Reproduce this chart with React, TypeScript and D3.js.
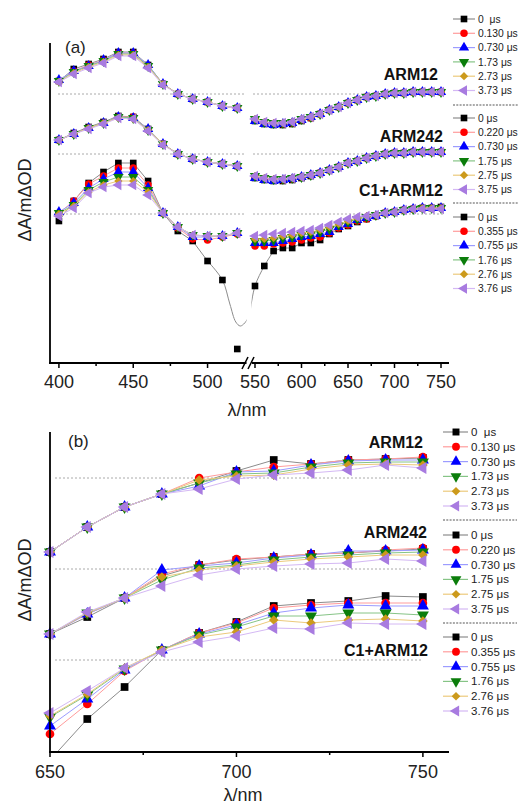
import React from 'react';
import * as d3 from 'd3';

const W = 519;
const H = 806;

// ---------- categories ----------
const groupNames = ['ARM12', 'ARM242', 'C1+ARM12'];
const waveALeft = [400, 410, 420, 430, 440, 450, 460, 470, 480, 490, 500, 510, 520];
const waveARight = [550, 560, 570, 580, 590, 600, 610, 620, 630, 640, 650, 660, 670, 680, 690, 700, 710, 720, 730, 740, 750];
const waveB = [650, 660, 670, 680, 690, 700, 710, 720, 730, 740, 750];
const ticksALeft = [400, 450, 500];
const minorALeft = [425, 475];
const ticksARight = [550, 600, 650, 700, 750];
const minorARight = [575, 625, 675, 725];
const ticksB = [650, 700, 750];
const minorB = [675, 725];

const legendLabels = [
  ['0  μs', '0.130 μs', '0.730 μs', '1.73 μs', '2.73 μs', '3.73 μs'],
  ['0 μs', '0.220 μs', '0.730 μs', '1.75 μs', '2.75 μs', '3.75 μs'],
  ['0 μs', '0.355 μs', '0.755 μs', '1.76 μs', '2.76 μs', '3.76 μs'],
];

// vertical offsets of the stacked spectra
const offsetsA = [12, 6, 0];
const offsetsB = [18.2, 9.1, 0];

// ---------- panel (a) values (ΔA, arbitrary units, relative to each baseline) ----------
const arm12ALeft = [
  [1.3, 2.5, 3.0, 3.5, 4.2, 4.2, 2.9, 1.0, 0.0, -0.5, -0.8, -1.2, -1.4],
  [1.3, 2.3, 2.9, 3.4, 4.1, 4.1, 2.8, 1.0, 0.0, -0.5, -0.8, -1.2, -1.4],
  [1.4, 2.3, 2.8, 3.4, 4.1, 4.1, 2.9, 1.0, 0.0, -0.5, -0.8, -1.2, -1.4],
  [1.3, 2.2, 2.8, 3.3, 4.0, 4.0, 2.8, 1.0, 0.0, -0.5, -0.8, -1.2, -1.4],
  [1.2, 2.1, 2.7, 3.2, 3.9, 3.9, 2.7, 1.0, 0.0, -0.5, -0.8, -1.2, -1.4],
  [1.2, 2.0, 2.6, 3.1, 3.8, 3.8, 2.6, 0.9, 0.0, -0.5, -0.8, -1.2, -1.4],
];
const arm12ARight = [
  [-2.7, -3.0, -3.1, -3.1, -3.0, -2.7, -2.4, -2.0, -1.6, -1.3, -0.9, -0.6, -0.3, -0.2, 0.0, 0.1, 0.1, 0.2, 0.2, 0.2, 0.2],
  [-2.6, -2.9, -3.0, -3.0, -2.9, -2.6, -2.4, -2.0, -1.6, -1.3, -0.9, -0.6, -0.3, -0.2, 0.0, 0.1, 0.1, 0.2, 0.2, 0.2, 0.2],
  [-2.7, -3.0, -3.1, -3.0, -2.9, -2.6, -2.3, -2.0, -1.6, -1.3, -0.9, -0.6, -0.3, -0.2, 0.0, 0.1, 0.1, 0.2, 0.2, 0.2, 0.2],
  [-2.5, -2.8, -2.9, -2.9, -2.8, -2.5, -2.3, -2.0, -1.6, -1.3, -0.9, -0.6, -0.3, -0.2, 0.0, 0.1, 0.1, 0.2, 0.2, 0.2, 0.2],
  [-2.5, -2.8, -2.9, -2.9, -2.8, -2.5, -2.3, -2.0, -1.6, -1.3, -0.9, -0.6, -0.3, -0.2, 0.0, 0.1, 0.1, 0.2, 0.2, 0.2, 0.2],
  [-2.5, -2.8, -2.9, -2.9, -2.8, -2.5, -2.3, -2.0, -1.6, -1.3, -0.9, -0.6, -0.3, -0.2, 0.0, 0.1, 0.1, 0.2, 0.2, 0.2, 0.2],
];
const arm242ALeft = [
  [1.4, 2.1, 2.7, 3.2, 3.8, 3.7, 2.5, 1.0, 0.0, -0.5, -0.8, -1.0, -1.2],
  [1.4, 2.0, 2.6, 3.1, 3.7, 3.7, 2.4, 1.0, 0.0, -0.5, -0.8, -1.0, -1.2],
  [1.4, 2.0, 2.6, 3.1, 3.7, 3.6, 2.5, 1.0, 0.0, -0.5, -0.8, -1.0, -1.2],
  [1.4, 2.0, 2.6, 3.1, 3.7, 3.6, 2.4, 1.0, 0.0, -0.5, -0.8, -1.0, -1.2],
  [1.4, 2.0, 2.6, 3.1, 3.6, 3.5, 2.4, 1.0, 0.0, -0.5, -0.8, -1.0, -1.2],
  [1.4, 2.0, 2.5, 3.0, 3.6, 3.5, 2.3, 0.9, 0.0, -0.5, -0.8, -1.0, -1.2],
];
const arm242ARight = [
  [-2.4, -2.6, -2.7, -2.7, -2.6, -2.4, -2.2, -1.9, -1.6, -1.3, -0.9, -0.7, -0.4, -0.2, 0.0, 0.1, 0.1, 0.2, 0.2, 0.2, 0.2],
  [-2.3, -2.5, -2.6, -2.6, -2.5, -2.3, -2.1, -1.9, -1.6, -1.3, -0.9, -0.7, -0.4, -0.2, 0.0, 0.1, 0.1, 0.2, 0.2, 0.2, 0.2],
  [-2.4, -2.6, -2.7, -2.6, -2.5, -2.3, -2.1, -1.9, -1.6, -1.3, -0.9, -0.7, -0.4, -0.2, 0.0, 0.1, 0.1, 0.2, 0.2, 0.2, 0.2],
  [-2.2, -2.4, -2.5, -2.5, -2.4, -2.3, -2.1, -1.9, -1.6, -1.3, -0.9, -0.7, -0.4, -0.2, 0.0, 0.1, 0.1, 0.2, 0.2, 0.2, 0.2],
  [-2.2, -2.4, -2.5, -2.5, -2.4, -2.3, -2.1, -1.9, -1.6, -1.3, -0.9, -0.7, -0.4, -0.2, 0.0, 0.1, 0.1, 0.2, 0.2, 0.2, 0.2],
  [-2.2, -2.4, -2.5, -2.5, -2.4, -2.3, -2.1, -1.9, -1.6, -1.3, -0.9, -0.7, -0.4, -0.2, 0.0, 0.1, 0.1, 0.2, 0.2, 0.2, 0.2],
];
const c1ALeft = [
  [-0.7, 1.3, 3.1, 4.2, 5.1, 5.1, 3.3, 0.1, -1.7, -2.7, -4.7, -6.6, -13.5],
  [0.1, 1.3, 3.0, 3.8, 4.6, 4.6, 2.9, 0.1, -1.4, -2.5, -2.6, -2.3, -2.0],
  [0.2, 1.1, 2.6, 3.5, 4.2, 4.2, 2.6, 0.1, -1.3, -2.3, -2.3, -2.2, -1.9],
  [0.1, 0.9, 2.4, 3.2, 3.7, 3.7, 2.4, 0.1, -1.3, -2.1, -2.2, -2.2, -1.9],
  [0.0, 0.8, 2.2, 2.9, 3.3, 3.3, 2.2, 0.1, -1.3, -2.1, -2.2, -2.2, -1.9],
  [-0.2, 0.6, 2.1, 2.7, 2.9, 2.9, 1.9, 0.1, -1.3, -2.1, -2.2, -2.2, -1.9],
];
const c1ARight = [
  [-7.2, -5.2, -3.7, -3.4, -3.4, -2.9, -2.9, -2.6, -2.0, -1.5, -1.2, -0.8, -0.5, -0.2, 0.1, 0.2, 0.4, 0.5, 0.6, 0.6, 0.7],
  [-3.2, -3.2, -3.0, -2.9, -2.8, -2.6, -2.4, -2.3, -1.9, -1.4, -1.1, -0.7, -0.5, -0.2, 0.1, 0.2, 0.4, 0.5, 0.6, 0.6, 0.6],
  [-2.9, -2.9, -2.9, -2.7, -2.5, -2.3, -2.2, -2.0, -1.8, -1.3, -1.0, -0.6, -0.4, -0.2, 0.1, 0.2, 0.4, 0.5, 0.6, 0.6, 0.6],
  [-2.7, -2.7, -2.6, -2.4, -2.3, -2.1, -2.0, -1.8, -1.5, -1.1, -0.8, -0.5, -0.3, -0.1, 0.1, 0.2, 0.4, 0.5, 0.6, 0.6, 0.6],
  [-2.5, -2.5, -2.4, -2.2, -2.1, -1.9, -1.8, -1.6, -1.3, -1.0, -0.7, -0.4, -0.2, -0.1, 0.1, 0.2, 0.4, 0.5, 0.6, 0.6, 0.6],
  [-2.2, -2.1, -2.0, -1.9, -1.8, -1.7, -1.6, -1.4, -1.1, -0.8, -0.5, -0.3, -0.2, -0.1, 0.1, 0.2, 0.4, 0.5, 0.5, 0.5, 0.5],
];
// smoothed trace of the C1+ARM12 0 μs spectrum across the bleach region
const c1FitLeftWave = [500, 510, 515, 519, 522, 525, 528];
const c1FitLeftVal = [-4.7, -6.6, -9.0, -10.8, -11.2, -10.9, -10.2];
const c1FitRightWave = [545, 550, 560, 570];
const c1FitRightVal = [-9.6, -7.2, -5.2, -3.7];

// ---------- panel (b) values ----------
const arm12B = [
  [-7.4, -4.9, -2.9, -1.6, -0.5, 0.7, 1.8, 1.4, 1.8, 1.9, 2.0],
  [-7.4, -4.9, -2.9, -1.6, 0.0, 0.6, 1.1, 1.4, 1.8, 1.9, 2.1],
  [-7.4, -4.9, -2.9, -1.6, -0.8, 0.6, 0.7, 1.3, 1.7, 1.8, 1.8],
  [-7.4, -4.9, -2.9, -1.6, -0.5, 0.4, 0.5, 1.1, 1.5, 1.6, 1.6],
  [-7.4, -4.9, -2.9, -1.6, -0.2, 0.2, 0.3, 0.9, 1.3, 1.4, 1.3],
  [-7.4, -4.9, -2.9, -1.6, -1.1, -0.1, 0.3, 0.5, 0.8, 1.3, 1.0],
];
const arm242B = [
  [-6.5, -4.8, -2.9, -0.7, 0.4, 0.9, 1.2, 1.5, 1.6, 1.8, 2.0],
  [-6.5, -4.5, -2.9, -0.5, 0.4, 1.0, 1.2, 1.5, 1.6, 1.9, 2.1],
  [-6.5, -4.5, -2.9, -0.1, 0.3, 0.6, 1.1, 1.4, 1.8, 1.8, 1.9],
  [-6.5, -4.4, -2.9, -1.1, 0.1, 0.4, 0.9, 1.2, 1.4, 1.6, 1.7],
  [-6.5, -4.4, -2.9, -0.8, -0.1, 0.3, 0.7, 1.0, 1.2, 1.4, 1.4],
  [-6.5, -4.3, -2.9, -1.7, -0.6, 0.0, 0.3, 0.5, 0.6, 1.0, 0.8],
];
const c1B = [
  [-10.0, -5.9, -2.7, 1.0, 2.7, 3.8, 5.4, 5.7, 5.9, 6.4, 6.3],
  [-7.4, -4.4, -1.1, 1.0, 2.7, 3.7, 5.2, 5.5, 5.7, 5.7, 5.7],
  [-6.6, -3.9, -1.0, 1.0, 2.6, 3.5, 4.7, 5.2, 5.5, 5.4, 5.4],
  [-5.7, -3.5, -0.9, 1.0, 2.5, 3.3, 4.4, 4.4, 4.7, 4.7, 4.5],
  [-5.6, -3.4, -0.8, 1.0, 2.3, 2.8, 4.0, 3.7, 4.0, 4.1, 3.9],
  [-5.3, -3.1, -0.8, 0.8, 1.8, 2.4, 3.2, 3.1, 3.7, 3.6, 3.6],
];

const groupsALeft = [arm12ALeft, arm242ALeft, c1ALeft];
const groupsARight = [arm12ARight, arm242ARight, c1ARight];
const groupsB = [arm12B, arm242B, c1B];

// ---------- styles ----------
const markerColors = ['#000000', '#ff0000', '#0000ff', '#0b7d0b', '#cc9a1c', '#a87be0'];
const lineColors = ['#8c8c8c', '#ff9c9c', '#9c9cff', '#86c486', '#ecca7c', '#d4b8f4'];
const markerKinds = ['square', 'circle', 'up', 'down', 'diamond', 'left'];
const FONT = "'Liberation Sans', Arial, Helvetica, sans-serif";

function Marker({ kind, x, y, color, scale }: any) {
  const s = scale;
  let d = '';
  let rot = 0;
  if (kind === 'square') d = d3.symbol(d3.symbolSquare, 44 * s)() as string;
  else if (kind === 'circle') d = d3.symbol(d3.symbolCircle, 44 * s)() as string;
  else if (kind === 'diamond') { d = d3.symbol(d3.symbolSquare, 34 * s)() as string; rot = 45; }
  else {
    d = d3.symbol(d3.symbolTriangle, 46 * s)() as string;
    rot = kind === 'up' ? 0 : kind === 'down' ? 180 : -90;
  }
  return <path d={d} transform={`translate(${x},${y}) rotate(${rot})`} fill={color} />;
}

const xAL = d3.scaleLinear().domain([394, 526.2]).range([50, 246.5]);
const xAR = d3.scaleLinear().domain([545.7, 758.6]).range([251, 449]);
const yA = d3.scaleLinear().domain([-14.9, 17.1]).range([363, 43]);
const xB = d3.scaleLinear().domain([650, 757]).range([50, 449]);
const yB = d3.scaleLinear().domain([-9.2, 22.8]).range([752, 432]);

const lineLin = d3.line<[number, number]>().x((d) => d[0]).y((d) => d[1]);
const lineSmooth = d3.line<[number, number]>().x((d) => d[0]).y((d) => d[1]).curve(d3.curveCatmullRom.alpha(0.5));

function SeriesSet({ waves, groups, xs, ys, offsets, scale, skipBlackLineGroup }: any) {
  const out: any[] = [];
  groups.forEach((g: number[][], gi: number) => {
    g.forEach((vals: number[], si: number) => {
      const pts: [number, number][] = waves.map((w: number, i: number) => [xs(w), ys(offsets[gi] + vals[i])]);
      let linePts = pts;
      if (skipBlackLineGroup && skipBlackLineGroup.group === gi && si === 0) linePts = skipBlackLineGroup.filter(pts);
      out.push(
        <path key={`l${gi}-${si}`} d={lineLin(linePts) as string} fill="none" stroke={lineColors[si]} strokeWidth={1} />
      );
      pts.forEach((p, i) => {
        out.push(<Marker key={`m${gi}-${si}-${i}`} kind={markerKinds[si]} x={p[0]} y={p[1]} color={markerColors[si]} scale={scale} />);
      });
    });
  });
  return <g>{out}</g>;
}

function Legend({ tops, step, x1, x2, xm, xt, seps, sepX2, fontSize, scale }: any) {
  const items: any[] = [];
  legendLabels.forEach((labels, gi) => {
    labels.forEach((lab, si) => {
      const y = tops[gi] + si * step;
      items.push(
        <g key={`${gi}-${si}`}>
          <line x1={x1} x2={x2} y1={y} y2={y} stroke={lineColors[si]} strokeWidth={1.2} />
          <Marker kind={markerKinds[si]} x={xm} y={y} color={markerColors[si]} scale={scale} />
          <text x={xt} y={y} dy="0.35em" fontSize={fontSize} fill="#222" style={{ whiteSpace: 'pre' }} fontFamily={FONT}>{lab}</text>
        </g>
      );
    });
  });
  seps.forEach((sy: number, i: number) => {
    items.push(<line key={`sep${i}`} x1={x1} x2={sepX2} y1={sy} y2={sy} stroke="#555" strokeWidth={1} strokeDasharray="2,1.3" />);
  });
  return <g>{items}</g>;
}

export default function App() {
  const axisW = 1.8;
  const labelA = [[438, 80], [443, 142], [443, 196]];
  const labelB = [[423, 448], [427, 538], [428, 656]];

  return (
    <svg width={W} height={H} style={{ position: 'absolute', left: 0, top: 0, background: '#fff' }} fontFamily={FONT}>
      <defs>
        <clipPath id="clipAL"><rect x={50} y={40} width={196.5} height={330} /></clipPath>
        <clipPath id="clipAR"><rect x={251.5} y={40} width={200} height={330} /></clipPath>
        <clipPath id="clipB"><rect x={40} y={420} width={420} height={332} /></clipPath>
      </defs>

      {/* ---------------- panel (a) ---------------- */}
      {offsetsA.map((o, gi) => (
        <g key={`ba${gi}`}>
          <line x1={58} x2={245} y1={yA(o)} y2={yA(o)} stroke="#aaa" strokeWidth={1} strokeDasharray="2,2" />
          <line x1={253} x2={443} y1={yA(o)} y2={yA(o)} stroke="#aaa" strokeWidth={1} strokeDasharray="2,2" />
        </g>
      ))}
      <g clipPath="url(#clipAL)">
        <path d={lineSmooth(c1FitLeftWave.map((w, i) => [xAL(w), yA(offsetsA[2] + c1FitLeftVal[i])] as [number, number])) as string}
          fill="none" stroke={lineColors[0]} strokeWidth={1} />
      </g>
      <g clipPath="url(#clipAR)">
        <path d={lineSmooth(c1FitRightWave.map((w, i) => [xAR(w), yA(offsetsA[2] + c1FitRightVal[i])] as [number, number])) as string}
          fill="none" stroke={lineColors[0]} strokeWidth={1} />
      </g>
      <SeriesSet waves={waveALeft} groups={groupsALeft} xs={xAL} ys={yA} offsets={offsetsA} scale={1}
        skipBlackLineGroup={{ group: 2, filter: (p: any[]) => p.slice(0, 11) }} />
      <SeriesSet waves={waveARight} groups={groupsARight} xs={xAR} ys={yA} offsets={offsetsA} scale={1}
        skipBlackLineGroup={{ group: 2, filter: (p: any[]) => p.slice(2) }} />

      {/* axes (a) */}
      <line x1={50} x2={50} y1={43} y2={364} stroke="#000" strokeWidth={axisW} />
      <line x1={49.1} x2={246.5} y1={363} y2={363} stroke="#000" strokeWidth={axisW} />
      <line x1={252} x2={449} y1={363} y2={363} stroke="#000" strokeWidth={axisW} />
      <line x1={242} x2={248} y1={369} y2={357} stroke="#000" strokeWidth={1.5} />
      <line x1={248} x2={254} y1={369} y2={357} stroke="#000" strokeWidth={1.5} />
      {ticksALeft.map((t) => (
        <g key={`tal${t}`}>
          <line x1={xAL(t)} x2={xAL(t)} y1={363} y2={368} stroke="#000" strokeWidth={1.5} />
          <text x={xAL(t)} y={388} textAnchor="middle" fontSize={18} fill="#222">{t}</text>
        </g>
      ))}
      {minorALeft.map((t) => <line key={`mal${t}`} x1={xAL(t)} x2={xAL(t)} y1={363} y2={366} stroke="#000" strokeWidth={1.5} />)}
      {ticksARight.map((t) => (
        <g key={`tar${t}`}>
          <line x1={xAR(t)} x2={xAR(t)} y1={363} y2={368} stroke="#000" strokeWidth={1.5} />
          <text x={xAR(t)} y={388} textAnchor="middle" fontSize={18} fill="#222">{t}</text>
        </g>
      ))}
      {minorARight.map((t) => <line key={`mar${t}`} x1={xAR(t)} x2={xAR(t)} y1={363} y2={366} stroke="#000" strokeWidth={1.5} />)}
      <text x={247} y={416} textAnchor="middle" fontSize={18} fill="#222">λ/nm</text>
      <text transform="translate(31,200) rotate(-90)" textAnchor="middle" fontSize={18} fill="#222">ΔA/mΔOD</text>
      <text x={65} y={53} fontSize={17} fill="#222">(a)</text>
      {groupNames.map((n, i) => (
        <text key={`ga${i}`} x={labelA[i][0]} y={labelA[i][1]} textAnchor="end" fontSize={16} fontWeight="bold" fill="#111">{n}</text>
      ))}
      <Legend tops={[19, 118, 217]} step={14.3} x1={453} x2={475} xm={464} xt={478} seps={[105, 203]} sepX2={519} fontSize={10.3} scale={1} />

      {/* ---------------- panel (b) ---------------- */}
      {offsetsB.map((o, gi) => (
        <line key={`bb${gi}`} x1={55} x2={423} y1={yB(o)} y2={yB(o)} stroke="#aaa" strokeWidth={1} strokeDasharray="2,2" />
      ))}
      <g clipPath="url(#clipB)">
        <SeriesSet waves={waveB} groups={groupsB} xs={xB} ys={yB} offsets={offsetsB} scale={1.35} />
      </g>
      <line x1={50} x2={50} y1={432} y2={753} stroke="#000" strokeWidth={axisW} />
      <line x1={49.1} x2={449} y1={752} y2={752} stroke="#000" strokeWidth={axisW} />
      {ticksB.map((t) => (
        <g key={`tb${t}`}>
          <line x1={xB(t)} x2={xB(t)} y1={752} y2={757} stroke="#000" strokeWidth={1.5} />
          <text x={xB(t)} y={778} textAnchor="middle" fontSize={18} fill="#222">{t}</text>
        </g>
      ))}
      {minorB.map((t) => <line key={`mb${t}`} x1={xB(t)} x2={xB(t)} y1={752} y2={755} stroke="#000" strokeWidth={1.5} />)}
      <text x={243} y={801} textAnchor="middle" fontSize={18} fill="#222">λ/nm</text>
      <text transform="translate(31,580) rotate(-90)" textAnchor="middle" fontSize={18} fill="#222">ΔA/mΔOD</text>
      <text x={68} y={447} fontSize={17} fill="#222">(b)</text>
      {groupNames.map((n, i) => (
        <text key={`gb${i}`} x={labelB[i][0]} y={labelB[i][1]} textAnchor="end" fontSize={16} fontWeight="bold" fill="#111">{n}</text>
      ))}
      <Legend tops={[432, 535, 637]} step={14.8} x1={443} x2={468} xm={456} xt={471} seps={[520, 623]} sepX2={517} fontSize={11.5} scale={1.1} />
    </svg>
  );
}
